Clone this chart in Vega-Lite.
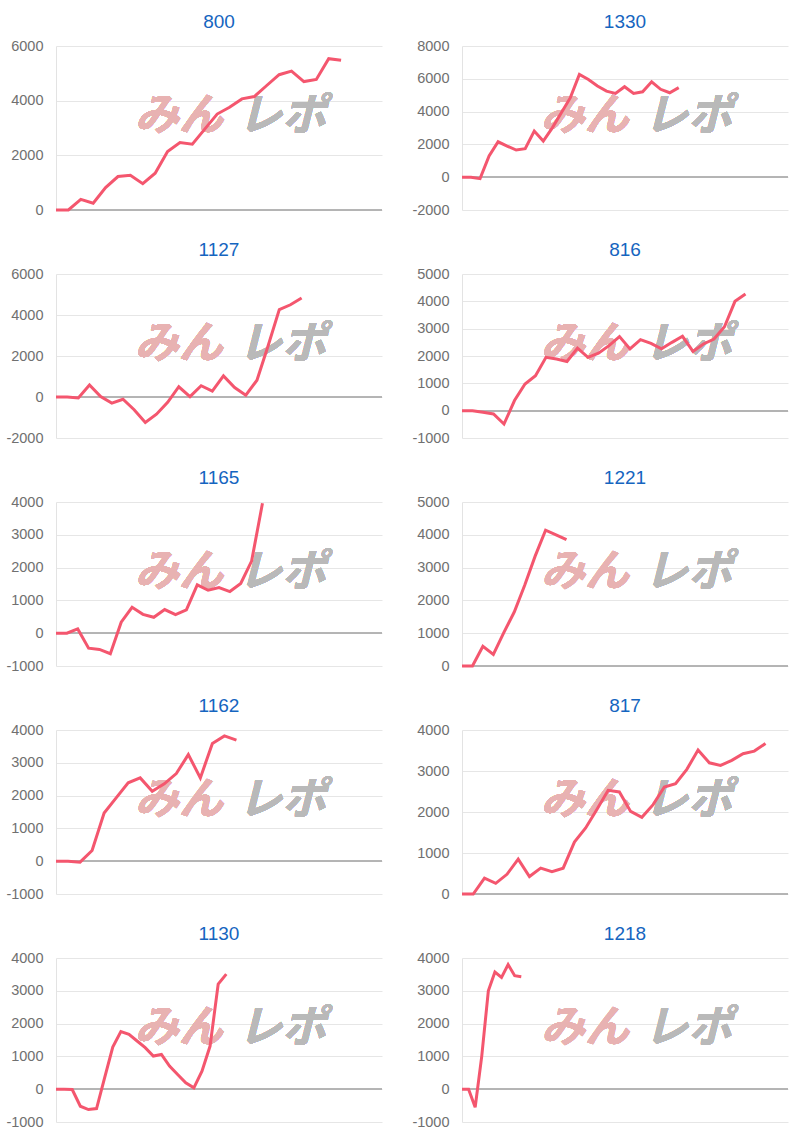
{
  "$schema": "https://vega.github.io/schema/vega-lite/v6.json",
  "background": "white",
  "padding": {"left": 5, "top": 13, "right": 5, "bottom": 5},
  "config": {
    "view": {"stroke": null},
    "font": "Liberation Sans",
    "title": {"fontSize": 19, "fontWeight": "normal", "color": "#1565c0", "font": "Liberation Sans", "anchor": "middle", "offset": 6},
    "axisY": {"labelColor": "#707070", "labelFontSize": 14.5, "labelFont": "Liberation Sans", "labelPadding": 13, "ticks": false, "domainColor": "#e3e3e3", "domainWidth": 1, "gridColor": "#e6e6e6", "gridWidth": 1, "labelOverlap": false, "labelFlush": false},
    "rule": {"color": "#b4b4b4", "strokeWidth": 1},
    "line": {"color": "#f4566e", "strokeWidth": 3},
    "text": {"font": "Noto Sans CJK JP", "fontSize": 44, "fontWeight": "bold", "fontStyle": "italic", "align": "center", "baseline": "middle"}
  },
  "datasets": {
    "d800": [{"i":0,"v":0},{"i":1,"v":0},{"i":2,"v":390},{"i":3,"v":245},{"i":4,"v":820},{"i":5,"v":1225},{"i":6,"v":1270},{"i":7,"v":965},{"i":8,"v":1345},{"i":9,"v":2140},{"i":10,"v":2470},{"i":11,"v":2410},{"i":12,"v":2960},{"i":13,"v":3510},{"i":14,"v":3760},{"i":15,"v":4065},{"i":16,"v":4150},{"i":17,"v":4555},{"i":18,"v":4950},{"i":19,"v":5080},{"i":20,"v":4700},{"i":21,"v":4775},{"i":22,"v":5535},{"i":23,"v":5475}],
    "d1330": [{"i":0,"v":0},{"i":1,"v":0},{"i":2,"v":-90},{"i":3,"v":1290},{"i":4,"v":2160},{"i":5,"v":1900},{"i":6,"v":1655},{"i":7,"v":1740},{"i":8,"v":2810},{"i":9,"v":2200},{"i":10,"v":3010},{"i":11,"v":3930},{"i":12,"v":4850},{"i":13,"v":6270},{"i":14,"v":5960},{"i":15,"v":5560},{"i":16,"v":5250},{"i":17,"v":5110},{"i":18,"v":5520},{"i":19,"v":5110},{"i":20,"v":5210},{"i":21,"v":5820},{"i":22,"v":5360},{"i":23,"v":5150},{"i":24,"v":5460}],
    "d1127": [{"i":0,"v":0},{"i":1,"v":0},{"i":2,"v":-50},{"i":3,"v":590},{"i":4,"v":20},{"i":5,"v":-300},{"i":6,"v":-110},{"i":7,"v":-620},{"i":8,"v":-1240},{"i":9,"v":-840},{"i":10,"v":-260},{"i":11,"v":500},{"i":12,"v":20},{"i":13,"v":550},{"i":14,"v":290},{"i":15,"v":1030},{"i":16,"v":460},{"i":17,"v":90},{"i":18,"v":820},{"i":19,"v":2500},{"i":20,"v":4260},{"i":21,"v":4500},{"i":22,"v":4830}],
    "d816": [{"i":0,"v":0},{"i":1,"v":0},{"i":2,"v":-60},{"i":3,"v":-120},{"i":4,"v":-490},{"i":5,"v":370},{"i":6,"v":975},{"i":7,"v":1280},{"i":8,"v":1950},{"i":9,"v":1890},{"i":10,"v":1800},{"i":11,"v":2290},{"i":12,"v":1950},{"i":13,"v":2100},{"i":14,"v":2380},{"i":15,"v":2710},{"i":16,"v":2260},{"i":17,"v":2600},{"i":18,"v":2460},{"i":19,"v":2260},{"i":20,"v":2500},{"i":21,"v":2720},{"i":22,"v":2170},{"i":23,"v":2440},{"i":24,"v":2620},{"i":25,"v":3070},{"i":26,"v":4000},{"i":27,"v":4270}],
    "d1165": [{"i":0,"v":0},{"i":1,"v":0},{"i":2,"v":130},{"i":3,"v":-455},{"i":4,"v":-495},{"i":5,"v":-625},{"i":6,"v":335},{"i":7,"v":790},{"i":8,"v":575},{"i":9,"v":485},{"i":10,"v":720},{"i":11,"v":565},{"i":12,"v":710},{"i":13,"v":1475},{"i":14,"v":1310},{"i":15,"v":1390},{"i":16,"v":1270},{"i":17,"v":1515},{"i":18,"v":2200},{"i":19,"v":3960}],
    "d1221": [{"i":0,"v":0},{"i":1,"v":0},{"i":2,"v":600},{"i":3,"v":355},{"i":4,"v":1015},{"i":5,"v":1645},{"i":6,"v":2460},{"i":7,"v":3350},{"i":8,"v":4140},{"i":9,"v":4000},{"i":10,"v":3850}],
    "d1162": [{"i":0,"v":0},{"i":1,"v":0},{"i":2,"v":-30},{"i":3,"v":325},{"i":4,"v":1470},{"i":5,"v":1930},{"i":6,"v":2390},{"i":7,"v":2540},{"i":8,"v":2130},{"i":9,"v":2360},{"i":10,"v":2670},{"i":11,"v":3250},{"i":12,"v":2540},{"i":13,"v":3590},{"i":14,"v":3820},{"i":15,"v":3690}],
    "d817": [{"i":0,"v":0},{"i":1,"v":0},{"i":2,"v":385},{"i":3,"v":260},{"i":4,"v":480},{"i":5,"v":850},{"i":6,"v":425},{"i":7,"v":630},{"i":8,"v":545},{"i":9,"v":630},{"i":10,"v":1265},{"i":11,"v":1610},{"i":12,"v":2060},{"i":13,"v":2530},{"i":14,"v":2490},{"i":15,"v":2015},{"i":16,"v":1870},{"i":17,"v":2180},{"i":18,"v":2610},{"i":19,"v":2690},{"i":20,"v":3040},{"i":21,"v":3510},{"i":22,"v":3200},{"i":23,"v":3135},{"i":24,"v":3260},{"i":25,"v":3420},{"i":26,"v":3485},{"i":27,"v":3670}],
    "d1130": [{"i":0,"v":0},{"i":1,"v":0},{"i":2,"v":-10},{"i":3,"v":-520},{"i":4,"v":-620},{"i":5,"v":-590},{"i":6,"v":350},{"i":7,"v":1285},{"i":8,"v":1755},{"i":9,"v":1670},{"i":10,"v":1470},{"i":11,"v":1265},{"i":12,"v":1010},{"i":13,"v":1060},{"i":14,"v":705},{"i":15,"v":450},{"i":16,"v":195},{"i":17,"v":40},{"i":18,"v":550},{"i":19,"v":1315},{"i":20,"v":3205},{"i":21,"v":3510}],
    "d1218": [{"i":0,"v":0},{"i":1,"v":0},{"i":2,"v":-550},{"i":3,"v":1010},{"i":4,"v":3000},{"i":5,"v":3570},{"i":6,"v":3410},{"i":7,"v":3800},{"i":8,"v":3460},{"i":9,"v":3430}]
  },
  "columns": 2,
  "bounds": "flush",
  "spacing": {"row": 64, "column": 80},
  "concat": [
    {"title": "800", "width": 326, "height": 164, "data": {"name": "d800"}, "layer": [
      {"mark": {"type": "text", "text": "みん", "color": "#e8b2b2"}, "encoding": {"x": {"datum": 9.92, "type": "quantitative", "axis": null}, "y": {"datum": 3408, "type": "quantitative", "axis": {"title": null, "grid": true, "labelOverlap": false, "labelExpr": "'' + datum.value", "values": [0, 2000, 4000, 6000]}}}},
      {"mark": {"type": "text", "text": "レポ", "color": "#b9b9b9"}, "encoding": {"x": {"datum": 18.25, "type": "quantitative", "axis": null}, "y": {"datum": 3408, "type": "quantitative", "axis": {"title": null, "grid": true, "labelOverlap": false, "labelExpr": "'' + datum.value", "values": [0, 2000, 4000, 6000]}}}},
      {"mark": "rule", "encoding": {"y": {"datum": 0, "type": "quantitative", "axis": {"title": null, "grid": true, "labelOverlap": false, "labelExpr": "'' + datum.value", "values": [0, 2000, 4000, 6000]}}}},
      {"mark": "line", "encoding": {"x": {"field": "i", "type": "quantitative", "axis": null, "scale": {"domain": [0, 26.3], "nice": false, "zero": false}}, "y": {"field": "v", "type": "quantitative", "scale": {"domain": [0, 6000], "nice": false, "zero": false}, "axis": {"title": null, "grid": true, "labelOverlap": false, "labelExpr": "'' + datum.value", "values": [0, 2000, 4000, 6000]}}}}
    ]},
    {"title": "1330", "width": 326, "height": 164, "data": {"name": "d1330"}, "layer": [
      {"mark": {"type": "text", "text": "みん", "color": "#e8b2b2"}, "encoding": {"x": {"datum": 13.6, "type": "quantitative", "axis": null}, "y": {"datum": 3680, "type": "quantitative", "axis": {"title": null, "grid": true, "labelOverlap": false, "labelExpr": "'' + datum.value", "values": [-2000, 0, 2000, 4000, 6000, 8000]}}}},
      {"mark": {"type": "text", "text": "レポ", "color": "#b9b9b9"}, "encoding": {"x": {"datum": 25.05, "type": "quantitative", "axis": null}, "y": {"datum": 3680, "type": "quantitative", "axis": {"title": null, "grid": true, "labelOverlap": false, "labelExpr": "'' + datum.value", "values": [-2000, 0, 2000, 4000, 6000, 8000]}}}},
      {"mark": "rule", "encoding": {"y": {"datum": 0, "type": "quantitative", "axis": {"title": null, "grid": true, "labelOverlap": false, "labelExpr": "'' + datum.value", "values": [-2000, 0, 2000, 4000, 6000, 8000]}}}},
      {"mark": "line", "encoding": {"x": {"field": "i", "type": "quantitative", "axis": null, "scale": {"domain": [0, 36.1], "nice": false, "zero": false}}, "y": {"field": "v", "type": "quantitative", "scale": {"domain": [-2000, 8000], "nice": false, "zero": false}, "axis": {"title": null, "grid": true, "labelOverlap": false, "labelExpr": "'' + datum.value", "values": [-2000, 0, 2000, 4000, 6000, 8000]}}}}
    ]},
    {"title": "1127", "width": 326, "height": 164, "data": {"name": "d1127"}, "layer": [
      {"mark": {"type": "text", "text": "みん", "color": "#e8b2b2"}, "encoding": {"x": {"datum": 11.0, "type": "quantitative", "axis": null}, "y": {"datum": 2544, "type": "quantitative", "axis": {"title": null, "grid": true, "labelOverlap": false, "labelExpr": "'' + datum.value", "values": [-2000, 0, 2000, 4000, 6000]}}}},
      {"mark": {"type": "text", "text": "レポ", "color": "#b9b9b9"}, "encoding": {"x": {"datum": 20.26, "type": "quantitative", "axis": null}, "y": {"datum": 2544, "type": "quantitative", "axis": {"title": null, "grid": true, "labelOverlap": false, "labelExpr": "'' + datum.value", "values": [-2000, 0, 2000, 4000, 6000]}}}},
      {"mark": "rule", "encoding": {"y": {"datum": 0, "type": "quantitative", "axis": {"title": null, "grid": true, "labelOverlap": false, "labelExpr": "'' + datum.value", "values": [-2000, 0, 2000, 4000, 6000]}}}},
      {"mark": "line", "encoding": {"x": {"field": "i", "type": "quantitative", "axis": null, "scale": {"domain": [0, 29.2], "nice": false, "zero": false}}, "y": {"field": "v", "type": "quantitative", "scale": {"domain": [-2000, 6000], "nice": false, "zero": false}, "axis": {"title": null, "grid": true, "labelOverlap": false, "labelExpr": "'' + datum.value", "values": [-2000, 0, 2000, 4000, 6000]}}}}
    ]},
    {"title": "816", "width": 326, "height": 164, "data": {"name": "d816"}, "layer": [
      {"mark": {"type": "text", "text": "みん", "color": "#e8b2b2"}, "encoding": {"x": {"datum": 11.7, "type": "quantitative", "axis": null}, "y": {"datum": 2408, "type": "quantitative", "axis": {"title": null, "grid": true, "labelOverlap": false, "labelExpr": "'' + datum.value", "values": [-1000, 0, 1000, 2000, 3000, 4000, 5000]}}}},
      {"mark": {"type": "text", "text": "レポ", "color": "#b9b9b9"}, "encoding": {"x": {"datum": 21.55, "type": "quantitative", "axis": null}, "y": {"datum": 2408, "type": "quantitative", "axis": {"title": null, "grid": true, "labelOverlap": false, "labelExpr": "'' + datum.value", "values": [-1000, 0, 1000, 2000, 3000, 4000, 5000]}}}},
      {"mark": "rule", "encoding": {"y": {"datum": 0, "type": "quantitative", "axis": {"title": null, "grid": true, "labelOverlap": false, "labelExpr": "'' + datum.value", "values": [-1000, 0, 1000, 2000, 3000, 4000, 5000]}}}},
      {"mark": "line", "encoding": {"x": {"field": "i", "type": "quantitative", "axis": null, "scale": {"domain": [0, 31.05], "nice": false, "zero": false}}, "y": {"field": "v", "type": "quantitative", "scale": {"domain": [-1000, 5000], "nice": false, "zero": false}, "axis": {"title": null, "grid": true, "labelOverlap": false, "labelExpr": "'' + datum.value", "values": [-1000, 0, 1000, 2000, 3000, 4000, 5000]}}}}
    ]},
    {"title": "1165", "width": 326, "height": 164, "data": {"name": "d1165"}, "layer": [
      {"mark": {"type": "text", "text": "みん", "color": "#e8b2b2"}, "encoding": {"x": {"datum": 11.31, "type": "quantitative", "axis": null}, "y": {"datum": 1840, "type": "quantitative", "axis": {"title": null, "grid": true, "labelOverlap": false, "labelExpr": "'' + datum.value", "values": [-1000, 0, 1000, 2000, 3000, 4000]}}}},
      {"mark": {"type": "text", "text": "レポ", "color": "#b9b9b9"}, "encoding": {"x": {"datum": 20.82, "type": "quantitative", "axis": null}, "y": {"datum": 1840, "type": "quantitative", "axis": {"title": null, "grid": true, "labelOverlap": false, "labelExpr": "'' + datum.value", "values": [-1000, 0, 1000, 2000, 3000, 4000]}}}},
      {"mark": "rule", "encoding": {"y": {"datum": 0, "type": "quantitative", "axis": {"title": null, "grid": true, "labelOverlap": false, "labelExpr": "'' + datum.value", "values": [-1000, 0, 1000, 2000, 3000, 4000]}}}},
      {"mark": "line", "encoding": {"x": {"field": "i", "type": "quantitative", "axis": null, "scale": {"domain": [0, 30], "nice": false, "zero": false}}, "y": {"field": "v", "type": "quantitative", "scale": {"domain": [-1000, 4000], "nice": false, "zero": false}, "axis": {"title": null, "grid": true, "labelOverlap": false, "labelExpr": "'' + datum.value", "values": [-1000, 0, 1000, 2000, 3000, 4000]}}}}
    ]},
    {"title": "1221", "width": 326, "height": 164, "data": {"name": "d1221"}, "layer": [
      {"mark": {"type": "text", "text": "みん", "color": "#e8b2b2"}, "encoding": {"x": {"datum": 11.76, "type": "quantitative", "axis": null}, "y": {"datum": 2840, "type": "quantitative", "axis": {"title": null, "grid": true, "labelOverlap": false, "labelExpr": "'' + datum.value", "values": [0, 1000, 2000, 3000, 4000, 5000]}}}},
      {"mark": {"type": "text", "text": "レポ", "color": "#b9b9b9"}, "encoding": {"x": {"datum": 21.65, "type": "quantitative", "axis": null}, "y": {"datum": 2840, "type": "quantitative", "axis": {"title": null, "grid": true, "labelOverlap": false, "labelExpr": "'' + datum.value", "values": [0, 1000, 2000, 3000, 4000, 5000]}}}},
      {"mark": "rule", "encoding": {"y": {"datum": 0, "type": "quantitative", "axis": {"title": null, "grid": true, "labelOverlap": false, "labelExpr": "'' + datum.value", "values": [0, 1000, 2000, 3000, 4000, 5000]}}}},
      {"mark": "line", "encoding": {"x": {"field": "i", "type": "quantitative", "axis": null, "scale": {"domain": [0, 31.2], "nice": false, "zero": false}}, "y": {"field": "v", "type": "quantitative", "scale": {"domain": [0, 5000], "nice": false, "zero": false}, "axis": {"title": null, "grid": true, "labelOverlap": false, "labelExpr": "'' + datum.value", "values": [0, 1000, 2000, 3000, 4000, 5000]}}}}
    ]},
    {"title": "1162", "width": 326, "height": 164, "data": {"name": "d1162"}, "layer": [
      {"mark": {"type": "text", "text": "みん", "color": "#e8b2b2"}, "encoding": {"x": {"datum": 10.22, "type": "quantitative", "axis": null}, "y": {"datum": 1840, "type": "quantitative", "axis": {"title": null, "grid": true, "labelOverlap": false, "labelExpr": "'' + datum.value", "values": [-1000, 0, 1000, 2000, 3000, 4000]}}}},
      {"mark": {"type": "text", "text": "レポ", "color": "#b9b9b9"}, "encoding": {"x": {"datum": 18.81, "type": "quantitative", "axis": null}, "y": {"datum": 1840, "type": "quantitative", "axis": {"title": null, "grid": true, "labelOverlap": false, "labelExpr": "'' + datum.value", "values": [-1000, 0, 1000, 2000, 3000, 4000]}}}},
      {"mark": "rule", "encoding": {"y": {"datum": 0, "type": "quantitative", "axis": {"title": null, "grid": true, "labelOverlap": false, "labelExpr": "'' + datum.value", "values": [-1000, 0, 1000, 2000, 3000, 4000]}}}},
      {"mark": "line", "encoding": {"x": {"field": "i", "type": "quantitative", "axis": null, "scale": {"domain": [0, 27.1], "nice": false, "zero": false}}, "y": {"field": "v", "type": "quantitative", "scale": {"domain": [-1000, 4000], "nice": false, "zero": false}, "axis": {"title": null, "grid": true, "labelOverlap": false, "labelExpr": "'' + datum.value", "values": [-1000, 0, 1000, 2000, 3000, 4000]}}}}
    ]},
    {"title": "817", "width": 326, "height": 164, "data": {"name": "d817"}, "layer": [
      {"mark": {"type": "text", "text": "みん", "color": "#e8b2b2"}, "encoding": {"x": {"datum": 10.93, "type": "quantitative", "axis": null}, "y": {"datum": 2272, "type": "quantitative", "axis": {"title": null, "grid": true, "labelOverlap": false, "labelExpr": "'' + datum.value", "values": [0, 1000, 2000, 3000, 4000]}}}},
      {"mark": {"type": "text", "text": "レポ", "color": "#b9b9b9"}, "encoding": {"x": {"datum": 20.13, "type": "quantitative", "axis": null}, "y": {"datum": 2272, "type": "quantitative", "axis": {"title": null, "grid": true, "labelOverlap": false, "labelExpr": "'' + datum.value", "values": [0, 1000, 2000, 3000, 4000]}}}},
      {"mark": "rule", "encoding": {"y": {"datum": 0, "type": "quantitative", "axis": {"title": null, "grid": true, "labelOverlap": false, "labelExpr": "'' + datum.value", "values": [0, 1000, 2000, 3000, 4000]}}}},
      {"mark": "line", "encoding": {"x": {"field": "i", "type": "quantitative", "axis": null, "scale": {"domain": [0, 29], "nice": false, "zero": false}}, "y": {"field": "v", "type": "quantitative", "scale": {"domain": [0, 4000], "nice": false, "zero": false}, "axis": {"title": null, "grid": true, "labelOverlap": false, "labelExpr": "'' + datum.value", "values": [0, 1000, 2000, 3000, 4000]}}}}
    ]},
    {"title": "1130", "width": 326, "height": 164, "data": {"name": "d1130"}, "layer": [
      {"mark": {"type": "text", "text": "みん", "color": "#e8b2b2"}, "encoding": {"x": {"datum": 15.15, "type": "quantitative", "axis": null}, "y": {"datum": 1840, "type": "quantitative", "axis": {"title": null, "grid": true, "labelOverlap": false, "labelExpr": "'' + datum.value", "values": [-1000, 0, 1000, 2000, 3000, 4000]}}}},
      {"mark": {"type": "text", "text": "レポ", "color": "#b9b9b9"}, "encoding": {"x": {"datum": 27.9, "type": "quantitative", "axis": null}, "y": {"datum": 1840, "type": "quantitative", "axis": {"title": null, "grid": true, "labelOverlap": false, "labelExpr": "'' + datum.value", "values": [-1000, 0, 1000, 2000, 3000, 4000]}}}},
      {"mark": "rule", "encoding": {"y": {"datum": 0, "type": "quantitative", "axis": {"title": null, "grid": true, "labelOverlap": false, "labelExpr": "'' + datum.value", "values": [-1000, 0, 1000, 2000, 3000, 4000]}}}},
      {"mark": "line", "encoding": {"x": {"field": "i", "type": "quantitative", "axis": null, "scale": {"domain": [0, 40.2], "nice": false, "zero": false}}, "y": {"field": "v", "type": "quantitative", "scale": {"domain": [-1000, 4000], "nice": false, "zero": false}, "axis": {"title": null, "grid": true, "labelOverlap": false, "labelExpr": "'' + datum.value", "values": [-1000, 0, 1000, 2000, 3000, 4000]}}}}
    ]},
    {"title": "1218", "width": 326, "height": 164, "data": {"name": "d1218"}, "layer": [
      {"mark": {"type": "text", "text": "みん", "color": "#e8b2b2"}, "encoding": {"x": {"datum": 18.66, "type": "quantitative", "axis": null}, "y": {"datum": 1840, "type": "quantitative", "axis": {"title": null, "grid": true, "labelOverlap": false, "labelExpr": "'' + datum.value", "values": [-1000, 0, 1000, 2000, 3000, 4000]}}}},
      {"mark": {"type": "text", "text": "レポ", "color": "#b9b9b9"}, "encoding": {"x": {"datum": 34.35, "type": "quantitative", "axis": null}, "y": {"datum": 1840, "type": "quantitative", "axis": {"title": null, "grid": true, "labelOverlap": false, "labelExpr": "'' + datum.value", "values": [-1000, 0, 1000, 2000, 3000, 4000]}}}},
      {"mark": "rule", "encoding": {"y": {"datum": 0, "type": "quantitative", "axis": {"title": null, "grid": true, "labelOverlap": false, "labelExpr": "'' + datum.value", "values": [-1000, 0, 1000, 2000, 3000, 4000]}}}},
      {"mark": "line", "encoding": {"x": {"field": "i", "type": "quantitative", "axis": null, "scale": {"domain": [0, 49.5], "nice": false, "zero": false}}, "y": {"field": "v", "type": "quantitative", "scale": {"domain": [-1000, 4000], "nice": false, "zero": false}, "axis": {"title": null, "grid": true, "labelOverlap": false, "labelExpr": "'' + datum.value", "values": [-1000, 0, 1000, 2000, 3000, 4000]}}}}
    ]}
  ]
}
